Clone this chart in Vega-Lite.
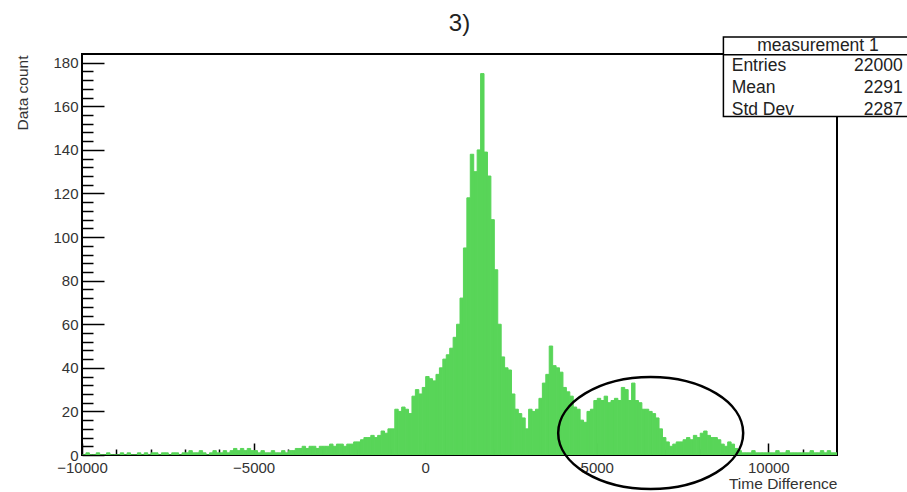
{
  "$schema": "https://vega.github.io/schema/vega-lite/v6.json",
  "width": 755,
  "height": 401,
  "autosize": {"type": "none"},
  "padding": {"left": 82, "top": 54, "right": 70, "bottom": 37},
  "background": "white",
  "title": {"text": "3)", "fontSize": 24, "font": "Liberation Sans", "fontWeight": "normal", "color": "#222", "anchor": "middle", "frame": "group", "baseline": "alphabetic", "offset": -19},
  "config": {
    "view": {"stroke": "#000", "strokeWidth": 2},
    "axis": {"labelFont": "Liberation Sans", "titleFont": "Liberation Sans", "grid": false, "domain": false, "tickColor": "#000", "labelOverlap": false}
  },
  "resolve": {"axis": {"x": "independent", "y": "independent"}},
  "layer": [
    {
      "data": {"values": [
        {"t": -10000, "n": 0}, {"t": -9900, "n": 1}, {"t": -9800, "n": 0}, {"t": -9700, "n": 0}, {"t": -9600, "n": 1},
        {"t": -9500, "n": 0}, {"t": -9400, "n": 0}, {"t": -9300, "n": 1}, {"t": -9200, "n": 0}, {"t": -9100, "n": 0},
        {"t": -9000, "n": 0}, {"t": -8900, "n": 1}, {"t": -8800, "n": 0}, {"t": -8700, "n": 1}, {"t": -8600, "n": 0},
        {"t": -8500, "n": 0}, {"t": -8400, "n": 1}, {"t": -8300, "n": 0}, {"t": -8200, "n": 1}, {"t": -8100, "n": 0},
        {"t": -8000, "n": 1}, {"t": -7900, "n": 1}, {"t": -7800, "n": 0}, {"t": -7700, "n": 1}, {"t": -7600, "n": 1},
        {"t": -7500, "n": 0}, {"t": -7400, "n": 1}, {"t": -7300, "n": 1}, {"t": -7200, "n": 0}, {"t": -7100, "n": 1},
        {"t": -7000, "n": 1}, {"t": -6900, "n": 2}, {"t": -6800, "n": 1}, {"t": -6700, "n": 1}, {"t": -6600, "n": 2},
        {"t": -6500, "n": 1}, {"t": -6400, "n": 0}, {"t": -6300, "n": 1}, {"t": -6200, "n": 2}, {"t": -6100, "n": 1},
        {"t": -6000, "n": 1}, {"t": -5900, "n": 2}, {"t": -5800, "n": 1}, {"t": -5700, "n": 2}, {"t": -5600, "n": 3},
        {"t": -5500, "n": 2}, {"t": -5400, "n": 3}, {"t": -5300, "n": 2}, {"t": -5200, "n": 3}, {"t": -5100, "n": 2},
        {"t": -5000, "n": 2}, {"t": -4900, "n": 1}, {"t": -4800, "n": 2}, {"t": -4700, "n": 1}, {"t": -4600, "n": 1},
        {"t": -4500, "n": 2}, {"t": -4400, "n": 1}, {"t": -4300, "n": 1}, {"t": -4200, "n": 2}, {"t": -4100, "n": 1},
        {"t": -4000, "n": 2}, {"t": -3900, "n": 2}, {"t": -3800, "n": 3}, {"t": -3700, "n": 3}, {"t": -3600, "n": 4},
        {"t": -3500, "n": 3}, {"t": -3400, "n": 4}, {"t": -3300, "n": 4}, {"t": -3200, "n": 3}, {"t": -3100, "n": 4},
        {"t": -3000, "n": 4}, {"t": -2900, "n": 4}, {"t": -2800, "n": 5}, {"t": -2700, "n": 4}, {"t": -2600, "n": 5},
        {"t": -2500, "n": 5}, {"t": -2400, "n": 4}, {"t": -2300, "n": 5}, {"t": -2200, "n": 5}, {"t": -2100, "n": 6},
        {"t": -2000, "n": 6}, {"t": -1900, "n": 7}, {"t": -1800, "n": 8}, {"t": -1700, "n": 8}, {"t": -1600, "n": 9},
        {"t": -1500, "n": 8}, {"t": -1400, "n": 9}, {"t": -1300, "n": 11}, {"t": -1200, "n": 10}, {"t": -1100, "n": 12},
        {"t": -1000, "n": 12}, {"t": -900, "n": 21}, {"t": -800, "n": 20}, {"t": -700, "n": 22}, {"t": -600, "n": 21},
        {"t": -500, "n": 19}, {"t": -400, "n": 27}, {"t": -300, "n": 30}, {"t": -200, "n": 28}, {"t": -100, "n": 31},
        {"t": 0, "n": 36}, {"t": 100, "n": 35}, {"t": 200, "n": 34}, {"t": 300, "n": 37}, {"t": 400, "n": 40},
        {"t": 500, "n": 44}, {"t": 600, "n": 46}, {"t": 700, "n": 49}, {"t": 800, "n": 54}, {"t": 900, "n": 60},
        {"t": 1000, "n": 72}, {"t": 1100, "n": 95}, {"t": 1200, "n": 118}, {"t": 1300, "n": 138}, {"t": 1400, "n": 130},
        {"t": 1500, "n": 140}, {"t": 1600, "n": 175}, {"t": 1700, "n": 139}, {"t": 1800, "n": 128}, {"t": 1900, "n": 108},
        {"t": 2000, "n": 85}, {"t": 2100, "n": 60}, {"t": 2200, "n": 45}, {"t": 2300, "n": 40}, {"t": 2400, "n": 39},
        {"t": 2500, "n": 28}, {"t": 2600, "n": 21}, {"t": 2700, "n": 19}, {"t": 2800, "n": 17}, {"t": 2900, "n": 12},
        {"t": 3000, "n": 21}, {"t": 3100, "n": 20}, {"t": 3200, "n": 21}, {"t": 3300, "n": 26}, {"t": 3400, "n": 33},
        {"t": 3500, "n": 37}, {"t": 3600, "n": 50}, {"t": 3700, "n": 41}, {"t": 3800, "n": 40}, {"t": 3900, "n": 38},
        {"t": 4000, "n": 31}, {"t": 4100, "n": 29}, {"t": 4200, "n": 27}, {"t": 4300, "n": 22}, {"t": 4400, "n": 21},
        {"t": 4500, "n": 16}, {"t": 4600, "n": 15}, {"t": 4700, "n": 20}, {"t": 4800, "n": 21}, {"t": 4900, "n": 25},
        {"t": 5000, "n": 26}, {"t": 5100, "n": 25}, {"t": 5200, "n": 27}, {"t": 5300, "n": 24}, {"t": 5400, "n": 25},
        {"t": 5500, "n": 26}, {"t": 5600, "n": 25}, {"t": 5700, "n": 31}, {"t": 5800, "n": 30}, {"t": 5900, "n": 25},
        {"t": 6000, "n": 33}, {"t": 6100, "n": 25}, {"t": 6200, "n": 24}, {"t": 6300, "n": 21}, {"t": 6400, "n": 21},
        {"t": 6500, "n": 20}, {"t": 6600, "n": 19}, {"t": 6700, "n": 17}, {"t": 6800, "n": 12}, {"t": 6900, "n": 8},
        {"t": 7000, "n": 6}, {"t": 7100, "n": 4}, {"t": 7200, "n": 5}, {"t": 7300, "n": 6}, {"t": 7400, "n": 6},
        {"t": 7500, "n": 7}, {"t": 7600, "n": 8}, {"t": 7700, "n": 7}, {"t": 7800, "n": 9}, {"t": 7900, "n": 8},
        {"t": 8000, "n": 10}, {"t": 8100, "n": 11}, {"t": 8200, "n": 9}, {"t": 8300, "n": 8}, {"t": 8400, "n": 8},
        {"t": 8500, "n": 7}, {"t": 8600, "n": 5}, {"t": 8700, "n": 4}, {"t": 8800, "n": 6}, {"t": 8900, "n": 5},
        {"t": 9000, "n": 3}, {"t": 9100, "n": 2}, {"t": 9200, "n": 1}, {"t": 9300, "n": 1}, {"t": 9400, "n": 1},
        {"t": 9500, "n": 2}, {"t": 9600, "n": 1}, {"t": 9700, "n": 1}, {"t": 9800, "n": 1}, {"t": 9900, "n": 1},
        {"t": 10000, "n": 1}, {"t": 10100, "n": 1}, {"t": 10200, "n": 2}, {"t": 10300, "n": 1}, {"t": 10400, "n": 1},
        {"t": 10500, "n": 2}, {"t": 10600, "n": 1}, {"t": 10700, "n": 1}, {"t": 10800, "n": 1}, {"t": 10900, "n": 1},
        {"t": 11000, "n": 1}, {"t": 11100, "n": 1}, {"t": 11200, "n": 2}, {"t": 11300, "n": 1}, {"t": 11400, "n": 1},
        {"t": 11500, "n": 2}, {"t": 11600, "n": 1}, {"t": 11700, "n": 2}, {"t": 11800, "n": 1}, {"t": 11900, "n": 1}
      ]},
      "mark": {"type": "bar", "binSpacing": 0, "color": "#58d558", "stroke": "#58d558", "strokeWidth": 1, "clip": true},
      "encoding": {
        "x": {
          "field": "t", "type": "quantitative", "bin": {"binned": true, "step": 100},
          "scale": {"domain": [-10000, 12000], "nice": false, "zero": false},
          "axis": {
            "orient": "bottom", "values": [-10000, -5000, 0, 5000, 10000], "format": "d",
            "tickSize": -12, "tickWidth": 1.5, "labelFontSize": 15, "labelColor": "#333", "labelPadding": 17, "labelFlush": false,
            "title": "Time Difference", "titleFontSize": 15.5, "titleFontWeight": "normal", "titleColor": "#333",
            "titleAlign": "right", "titleBaseline": "alphabetic", "titleAnchor": "end", "titleX": 755, "titleY": 33
          }
        },
        "y": {
          "field": "n", "type": "quantitative",
          "scale": {"domain": [0, 184], "nice": false},
          "axis": {
            "orient": "left", "values": [0, 20, 40, 60, 80, 100, 120, 140, 160, 180],
            "tickSize": -22, "tickWidth": 1.5, "labelFontSize": 15, "labelColor": "#333", "labelPadding": 26,
            "title": "Data count", "titleFontSize": 15.5, "titleFontWeight": "normal", "titleColor": "#333",
            "titleAngle": -90, "titleAlign": "right", "titleBaseline": "middle", "titleX": -60, "titleY": 1
          }
        }
      }
    },
    {
      "data": {"values": [{"note": "highlight"}]},
      "mark": {"type": "point", "shape": "M-1,0A1,0.605,0,1,1,1,0A1,0.605,0,1,1,-1,0Z", "size": 34225, "filled": false, "stroke": "#000", "strokeWidth": 2.5, "opacity": 1, "clip": false},
      "encoding": {
        "x": {"datum": 6571, "type": "quantitative", "axis": {
          "orient": "bottom", "values": [-9000, -8000, -7000, -6000, -4000, -3000, -2000, -1000, 1000, 2000, 3000, 4000, 6000, 7000, 8000, 9000, 11000],
          "tickSize": -6, "tickWidth": 1.5, "labels": false, "title": null, "domain": false}},
        "y": {"datum": 10.1, "type": "quantitative", "axis": {
          "orient": "left", "values": [4, 8, 12, 16, 24, 28, 32, 36, 44, 48, 52, 56, 64, 68, 72, 76, 84, 88, 92, 96, 104, 108, 112, 116, 124, 128, 132, 136, 144, 148, 152, 156, 164, 168, 172, 176],
          "tickSize": -11, "tickWidth": 1.5, "labels": false, "title": null, "domain": false}}
      }
    },
    {
      "data": {"values": [{"box": "stats"}]},
      "mark": {"type": "rect", "fill": "white", "stroke": "#000", "strokeWidth": 1.5, "clip": false},
      "encoding": {
        "x": {"datum": 8690, "axis": null}, "x2": {"datum": 14500},
        "y": {"datum": 191.8, "axis": null}, "y2": {"datum": 155.3}
      }
    },
    {
      "data": {"values": [{"box": "stats"}]},
      "mark": {"type": "rule", "stroke": "#000", "strokeWidth": 1.5, "clip": false},
      "encoding": {
        "x": {"datum": 8690, "axis": null}, "x2": {"datum": 14500},
        "y": {"datum": 183.6, "axis": null}
      }
    },
    {
      "data": {"values": [{"name": "measurement 1"}]},
      "mark": {"type": "text", "font": "Liberation Sans", "fontSize": 17.5, "color": "#222", "align": "center", "baseline": "middle", "clip": false},
      "encoding": {
        "x": {"datum": 11447, "axis": null},
        "y": {"datum": 187.7, "axis": null},
        "text": {"field": "name"}
      }
    },
    {
      "data": {"values": [{"label": "Entries", "value": "22000"}]},
      "encoding": {"y": {"datum": 178.5, "axis": null}},
      "layer": [
        {"mark": {"type": "text", "font": "Liberation Sans", "fontSize": 17.5, "color": "#222", "align": "left", "baseline": "middle", "clip": false},
         "encoding": {"x": {"datum": 8932, "axis": null}, "text": {"field": "label"}}},
        {"mark": {"type": "text", "font": "Liberation Sans", "fontSize": 17.5, "color": "#222", "align": "right", "baseline": "middle", "clip": false},
         "encoding": {"x": {"datum": 13915, "axis": null}, "text": {"field": "value"}}}
      ]
    },
    {
      "data": {"values": [{"label": "Mean", "value": "2291"}]},
      "encoding": {"y": {"datum": 168.2, "axis": null}},
      "layer": [
        {"mark": {"type": "text", "font": "Liberation Sans", "fontSize": 17.5, "color": "#222", "align": "left", "baseline": "middle", "clip": false},
         "encoding": {"x": {"datum": 8932, "axis": null}, "text": {"field": "label"}}},
        {"mark": {"type": "text", "font": "Liberation Sans", "fontSize": 17.5, "color": "#222", "align": "right", "baseline": "middle", "clip": false},
         "encoding": {"x": {"datum": 13915, "axis": null}, "text": {"field": "value"}}}
      ]
    },
    {
      "data": {"values": [{"label": "Std Dev", "value": "2287"}]},
      "encoding": {"y": {"datum": 158.1, "axis": null}},
      "layer": [
        {"mark": {"type": "text", "font": "Liberation Sans", "fontSize": 17.5, "color": "#222", "align": "left", "baseline": "middle", "clip": false},
         "encoding": {"x": {"datum": 8932, "axis": null}, "text": {"field": "label"}}},
        {"mark": {"type": "text", "font": "Liberation Sans", "fontSize": 17.5, "color": "#222", "align": "right", "baseline": "middle", "clip": false},
         "encoding": {"x": {"datum": 13915, "axis": null}, "text": {"field": "value"}}}
      ]
    }
  ]
}
